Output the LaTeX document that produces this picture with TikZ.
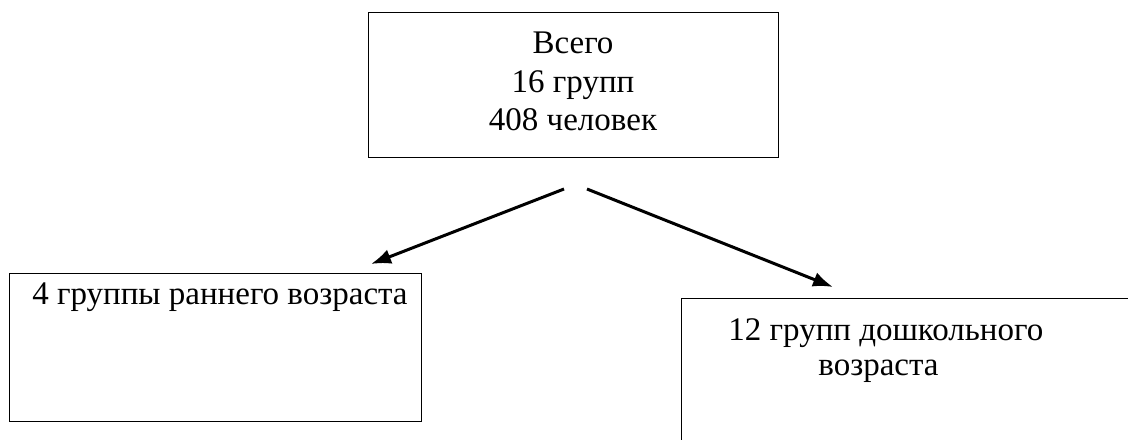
\documentclass[tikz,border=0pt]{standalone}
\usepackage{fontspec}
\setmainfont{Liberation Serif}
\usetikzlibrary{arrows.meta}

\begin{document}
\begin{tikzpicture}[x=0.5pt, y=-0.5pt,
    box/.style={draw, line width=0.6pt, inner sep=0pt, anchor=north west},
    txt/.style={font=\fontsize{16.5}{19.5}\selectfont, inner sep=0pt},
    link/.style={line width=1.5pt, -{Latex[length=10pt,width=7.5pt]}}]
        \useasboundingbox (0,0) rectangle (1128,439);
        % boxes
        \node[box, minimum width=205pt, minimum height=72.5pt] (total) at (368,12) {};
        \node[box, minimum width=206pt, minimum height=74pt] (early) at (9,273) {};
        \node[box, minimum width=240pt, minimum height=80pt] (preschool) at (681,298) {};
        % texts
        \node[txt, anchor=base] (all) at (573,53) {Всего};
        \node[txt, anchor=base] (groups) at (573,92) {16 групп};
        \node[txt, anchor=base] (people) at (573,130) {408 человек};
        \node[txt, anchor=base] (earlytxt) at (220,304) {4 группы раннего возраста};
        \node[txt, anchor=base west] (pretxt) at (728,340) {12 групп дошкольного};
        \node[txt, anchor=base west] (preage) at (818,375) {возраста};
        % arrows
        \coordinate (splitL) at (564,189);
        \coordinate (splitR) at (587,189);
        \coordinate (tipL) at (371,264);
        \coordinate (tipR) at (833,287);
        \draw[link] (splitL) -- (tipL);
        \draw[link] (splitR) -- (tipR);
    \end{tikzpicture}
\end{document}
